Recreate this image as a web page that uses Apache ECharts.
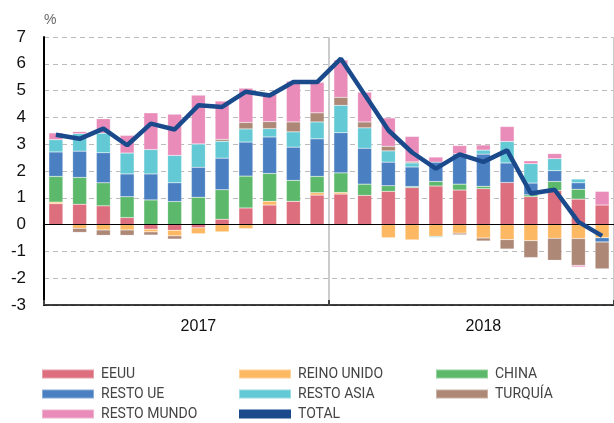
<!DOCTYPE html>
<html>
<head>
<meta charset="utf-8">
<script src="https://cdn.jsdelivr.net/npm/echarts@6/dist/echarts.min.js"></script>
<style>
  html, body { margin: 0; padding: 0; background: #fff; }
  #chart { width: 614px; height: 423px; }
</style>
</head>
<body>
<div id="chart"></div>
<script>
// meses ene-2017 .. dic-2018
var months = ['E17','F17','M17','A17','M17','J17','J17','A17','S17','O17','N17','D17',
              'E18','F18','M18','A18','M18','J18','J18','A18','S18','O18','N18','D18'];
var yearLabels = ['','','','','','','2017','','','','','','','','','','','','2018','','','','',''];

var eeuu = [0.78, 0.76, 0.70, 0.26, -0.17, -0.21, -0.12, 0.20, 0.62, 0.73, 0.87, 1.10,
            1.14, 1.09, 1.24, 1.38, 1.44, 1.29, 1.34, 1.57, 1.04, 1.27, 0.95, 0.73];
var reinoUnido = [0.06, -0.14, -0.20, -0.20, -0.10, -0.21, -0.22, -0.27, -0.15, 0.14, 0, 0.09,
                  0.06, -0.03, -0.49, -0.57, -0.44, -0.32, -0.50, -0.56, -0.60, -0.51, -0.52, -0.49];
var china = [0.96, 1.00, 0.86, 0.78, 0.92, 0.86, 1.02, 1.10, 1.19, 1.04, 0.78, 0.61,
             0.73, 0.42, 0.21, 0.04, 0.17, 0.22, 0.09, 0, 0.07, 0.34, 0.37, 0];
var restoUE = [0.91, 0.98, 1.12, 0.85, 0.97, 0.70, 1.12, 1.18, 1.27, 1.36, 1.24, 1.40,
               1.50, 1.34, 0.88, 0.73, 0.72, 1.13, 1.20, 0.73, 0.44, 0.40, 0.24, -0.16];
var restoAsia = [0.46, 0.65, 0.73, 0.78, 0.91, 1.02, 0.87, 0.63, 0.49, 0.31, 0.57, 0.63,
                 1.02, 0.76, 0.42, 0.15, -0.04, 0, 0.15, 0.80, 0.72, 0.45, 0.14, 0];
var turquia = [0, -0.15, -0.20, -0.20, -0.12, -0.12, 0, 0.07, 0.24, 0.26, 0.37, 0.34,
               0.30, 0.22, 0.17, 0.04, 0, -0.06, -0.11, -0.35, -0.63, -0.82, -1.00, -1.00];
var restoMundo = [0.25, 0.08, 0.54, 0.66, 1.37, 1.54, 1.82, 1.43, 1.28, 1.02, 1.52, 1.14,
                  1.39, 1.11, 1.06, 0.95, 0.19, 0.31, 0.19, 0.56, 0.11, 0.19, -0.06, 0.51];
var total = [3.35, 3.20, 3.58, 2.96, 3.77, 3.55, 4.45, 4.39, 4.96, 4.82, 5.32, 5.32,
             6.19, 4.85, 3.52, 2.69, 2.09, 2.62, 2.34, 2.77, 1.16, 1.30, 0.10, -0.42];

var chart = echarts.init(document.getElementById('chart'), null, { renderer: 'canvas' });

var axisFont = 'Liberation Sans, Arial, sans-serif';
var legendFont = 'Liberation Sans Narrow, Arial Narrow, Roboto, sans-serif';

// separador entre años (la primera marca queda bajo el eje)
function yearBreak(i) { return i === 0 || i === 12; }

function bar(name, data, color) {
  return {
    name: name,
    type: 'bar',
    stack: 'total',
    barWidth: 14,
    data: data,
    itemStyle: { color: color, borderColor: 'rgba(255,255,255,0.35)', borderWidth: 0.5 }
  };
}

var zeroBar = bar('EEUU', eeuu, '#dc6e7d');
zeroBar.markLine = {
  silent: true,
  symbol: 'none',
  label: { show: false },
  lineStyle: { color: '#000', width: 1, type: 'solid' },
  data: [{ yAxis: 0 }],
  z: 10
};

function legendCol(left, names) {
  return {
    orient: 'vertical',
    left: left,
    top: 366,
    height: 60,
    padding: 0,
    itemWidth: 52,
    itemHeight: 9,
    itemGap: 4,
    icon: 'rect',
    selectedMode: false,
    textStyle: { fontFamily: legendFont, fontSize: 14, lineHeight: 16, color: '#444', padding: [0, 0, 0, 2] },
    data: names
  };
}

var option = {
  backgroundColor: '#ffffff',
  animation: false,
  grid: { left: 44, top: 37, width: 572, height: 268 },
  legend: [
    legendCol(41, ['EEUU', 'RESTO UE', 'RESTO MUNDO']),
    legendCol(238, ['REINO UNIDO', 'RESTO ASIA', 'TOTAL']),
    legendCol(435, ['CHINA', 'TURQUÍA'])
  ],
  graphic: [{
    type: 'text', left: 44, top: 13,
    style: { text: '%', fontFamily: axisFont, fontSize: 14, fill: '#666' }
  }],
  xAxis: {
    type: 'category',
    data: months,
    boundaryGap: true,
    axisLine: { onZero: false, lineStyle: { color: '#000', width: 1.5 } },
    axisTick: {
      show: true, inside: true, length: 5,
      interval: yearBreak,
      lineStyle: { color: '#444', width: 2 }
    },
    splitLine: {
      show: true,
      interval: yearBreak,
      lineStyle: { color: '#ccc', width: 2 }
    },
    axisLabel: {
      interval: 0,
      margin: 14,
      fontFamily: axisFont,
      fontSize: 16,
      color: '#111',
      formatter: function (v, i) { return yearLabels[i]; }
    }
  },
  yAxis: {
    type: 'value',
    min: -3,
    max: 7,
    interval: 1,
    axisLine: { show: true, lineStyle: { color: '#000', width: 2 } },
    axisTick: { show: false },
    axisLabel: { margin: 18, fontFamily: axisFont, fontSize: 17, color: '#111' },
    splitLine: { lineStyle: { color: '#bbb', type: [5, 4], width: 1.2 } }
  },
  series: [
    zeroBar,
    bar('REINO UNIDO', reinoUnido, '#fdb863'),
    bar('CHINA', china, '#5cb96b'),
    bar('RESTO UE', restoUE, '#4a80c2'),
    bar('RESTO ASIA', restoAsia, '#63c9d5'),
    bar('TURQUÍA', turquia, '#ad8876'),
    bar('RESTO MUNDO', restoMundo, '#e98cba'),
    {
      name: 'TOTAL',
      type: 'line',
      data: total,
      symbol: 'none',
      z: 20,
      itemStyle: { color: '#1b4a8c' },
      lineStyle: { color: '#1b4a8c', width: 4.5 }
    }
  ]
};

chart.setOption(option);
</script>
</body>
</html>
